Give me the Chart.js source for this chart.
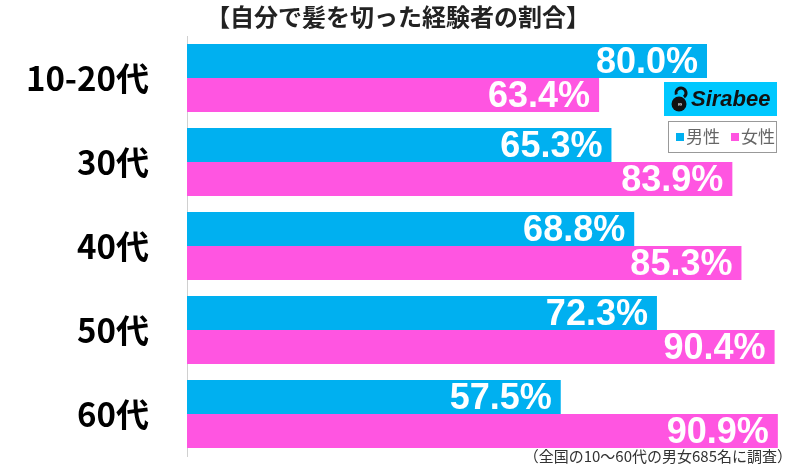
<!DOCTYPE html>
<html>
<head>
<meta charset="utf-8">
<script src="https://cdn.jsdelivr.net/npm/chart.js@4.4.1/dist/chart.umd.min.js"></script>
<style>
    body { margin: 0; background: #fff; }
</style>
</head>
<body>
<canvas id="hairChart" width="800" height="466"></canvas>
<script>
const categories = ['10-20代', '30代', '40代', '50代', '60代'];
const maleValues = [80.0, 65.3, 68.8, 72.3, 57.5];
const femaleValues = [63.4, 83.9, 85.3, 90.4, 90.9];
const seriesNames = ['男性', '女性'];
const titleText = '【自分で髪を切った経験者の割合】';
const noteText = '（全国の10〜60代の男女685名に調査）';

const MALE_COLOR = '#00b0f0';
const FEMALE_COLOR = '#ff55e1';
const JP_FONT = '"Noto Sans CJK JP", "Noto Sans", sans-serif';

// labels inside the bar ends, title, note, logo and legend box
const decorPlugin = {
    id: 'decor',
    afterDatasetsDraw(chart) {
        const ctx = chart.ctx;
        ctx.save();
        ctx.font = 'bold 36px "Liberation Sans", Arial, sans-serif';
        ctx.fillStyle = '#fff';
        ctx.textAlign = 'right';
        ctx.textBaseline = 'middle';
        chart.data.datasets.forEach((ds, i) => {
            chart.getDatasetMeta(i).data.forEach((bar, j) => {
                ctx.fillText(ds.data[j].toFixed(1) + '%', bar.x - 9, bar.y + 2);
            });
        });
        ctx.restore();
    },
    afterDraw(chart) {
        const ctx = chart.ctx;
        ctx.save();
        // title
        ctx.fillStyle = '#222';
        ctx.font = 'bold 24px ' + JP_FONT;
        ctx.textAlign = 'center';
        ctx.textBaseline = 'middle';
        ctx.fillText(titleText, 398, 17);

        // note
        ctx.fillStyle = '#333';
        ctx.font = '15px ' + JP_FONT;
        ctx.textAlign = 'right';
        ctx.textBaseline = 'alphabetic';
        ctx.fillText(noteText, 792, 462);

        // logo
        ctx.fillStyle = '#00c8ff';
        ctx.fillRect(664, 82, 113, 34);
        ctx.fillStyle = '#111';
        ctx.beginPath();
        ctx.arc(679, 104, 7.5, 0, Math.PI * 2);
        ctx.fill();
        ctx.strokeStyle = '#111';
        ctx.lineWidth = 3;
        ctx.beginPath();
        ctx.arc(681, 93, 5, Math.PI * 0.9, Math.PI * 2.3);
        ctx.stroke();
        ctx.fillStyle = '#fff';
        ctx.font = 'bold 6px sans-serif';
        ctx.textAlign = 'center';
        ctx.textBaseline = 'middle';
        ctx.fillText('∞', 680, 104);
        ctx.fillStyle = '#111';
        ctx.font = 'italic bold 22px "Liberation Sans", Arial, sans-serif';
        ctx.textAlign = 'left';
        ctx.textBaseline = 'middle';
        ctx.fillText('Sirabee', 691, 100);

        // legend box
        ctx.strokeStyle = '#999';
        ctx.lineWidth = 1;
        ctx.strokeRect(668.5, 121.5, 108, 31);
        ctx.font = '17px ' + JP_FONT;
        ctx.textBaseline = 'middle';
        ctx.fillStyle = MALE_COLOR;
        ctx.fillRect(676, 133, 8, 8);
        ctx.fillStyle = '#666';
        ctx.fillText(seriesNames[0], 686, 137);
        ctx.fillStyle = FEMALE_COLOR;
        ctx.fillRect(731, 133, 8, 8);
        ctx.fillStyle = '#666';
        ctx.fillText(seriesNames[1], 741, 137);
        ctx.restore();
    }
};

const ctx = document.getElementById('hairChart');
new Chart(ctx, {
    type: 'bar',
    data: {
        labels: categories,
        datasets: [
            { label: seriesNames[0], data: maleValues, backgroundColor: MALE_COLOR },
            { label: seriesNames[1], data: femaleValues, backgroundColor: FEMALE_COLOR }
        ]
    },
    options: {
        indexAxis: 'y',
        responsive: false,
        animation: false,
        categoryPercentage: 0.81,
        barPercentage: 1,
        layout: { padding: { top: 36, bottom: 10, left: 0, right: 2 } },
        plugins: {
            legend: { display: false },
            title: { display: false },
            tooltip: { enabled: false }
        },
        scales: {
            x: {
                display: false,
                min: 0,
                max: 94
            },
            y: {
                grid: { display: false },
                border: { display: true, color: '#d0d0d0', width: 1 },
                ticks: {
                    color: '#000',
                    padding: 30,
                    font: { size: 33, weight: 'bold', family: JP_FONT }
                },
                afterFit(scale) {
                    scale.width = 187;
                    scale.paddingTop = 0;
                    scale.paddingBottom = 0;
                }
            }
        }
    },
    plugins: [decorPlugin]
});
</script>
</body>
</html>
